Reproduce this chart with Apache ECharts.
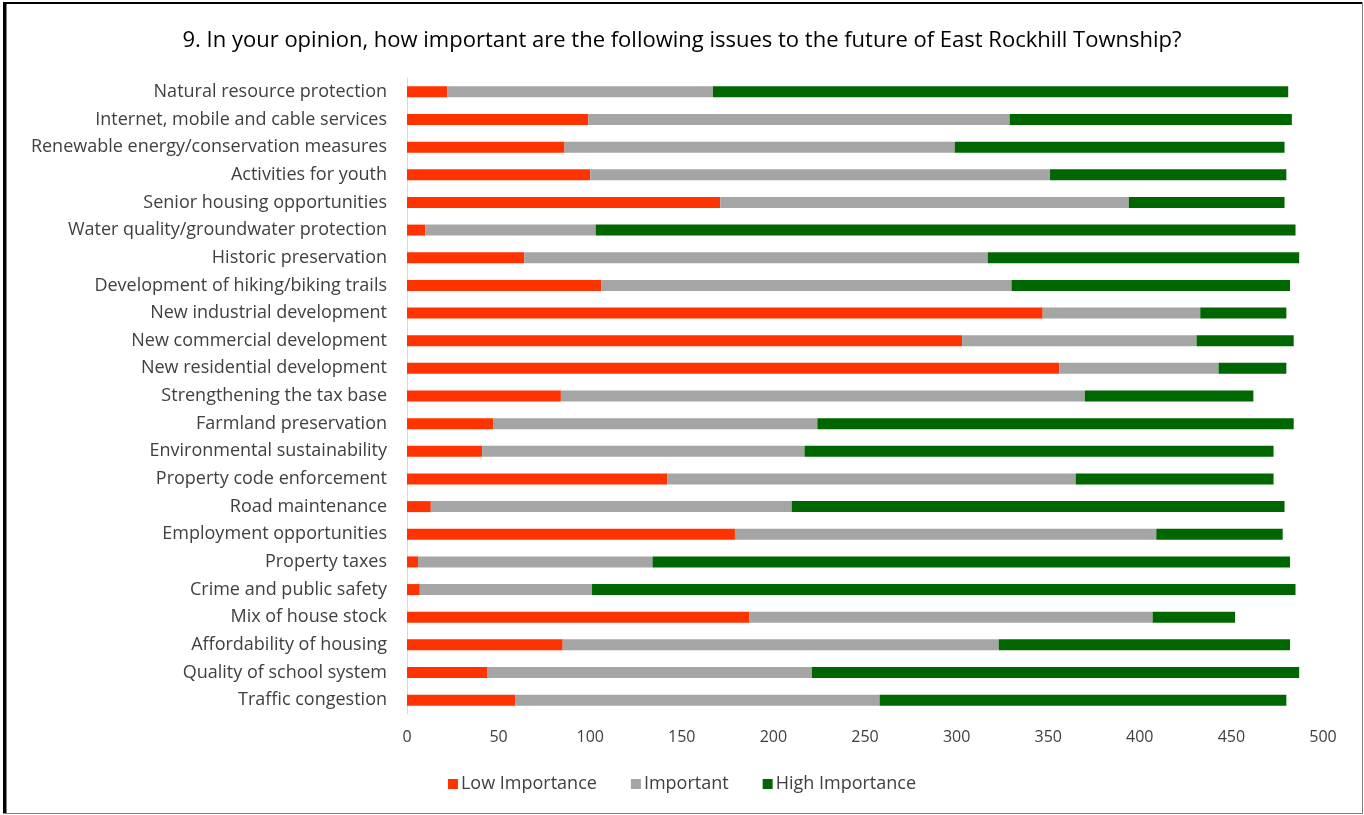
<!DOCTYPE html>
<html>
<head>
<meta charset="utf-8">
<script src="https://cdn.jsdelivr.net/npm/echarts@6/dist/echarts.min.js"></script>
<style>
html,body{margin:0;padding:0;background:#fff;}
#chart{width:1364px;height:815px;}
</style>
</head>
<body>
<div id="chart"></div>
<script>
const categories = [
  "Natural resource protection",
  "Internet, mobile and cable services",
  "Renewable energy/conservation measures",
  "Activities for youth",
  "Senior housing opportunities",
  "Water quality/groundwater protection",
  "Historic preservation",
  "Development of hiking/biking trails",
  "New industrial development",
  "New commercial development",
  "New residential development",
  "Strengthening the tax base",
  "Farmland preservation",
  "Environmental sustainability",
  "Property code enforcement",
  "Road maintenance",
  "Employment opportunities",
  "Property taxes",
  "Crime and public safety",
  "Mix of house stock",
  "Affordability of housing",
  "Quality of school system",
  "Traffic congestion"
];
const lowImportance  = [22, 99, 86, 100, 171, 10, 64, 106, 347, 303, 356, 84, 47, 41, 142, 13, 179, 6, 7, 187, 85, 44, 59];
const important      = [145, 230, 213, 251, 223, 93, 253, 224, 86, 128, 87, 286, 177, 176, 223, 197, 230, 128, 94, 220, 238, 177, 199];
const highImportance = [314, 154, 180, 129, 85, 382, 170, 152, 47, 53, 37, 92, 260, 256, 108, 269, 69, 348, 384, 45, 159, 266, 222];
const seriesNames = ["Low Importance", "Important", "High Importance"];
const xTicks = { min: 0, max: 500, interval: 50 };
const title = "9. In your opinion, how important are the following issues to the future of East Rockhill Township?";

const FONT = "Open Sans";
const chart = echarts.init(document.getElementById('chart'), null, {renderer: 'canvas'});
const colors = ["#FF3300", "#A5A5A5", "#006600"];
const dataSets = [lowImportance, important, highImportance];

chart.setOption({
  animation: false,
  backgroundColor: "#ffffff",
  title: {
    text: title,
    left: "center",
    top: 25,
    textStyle: { fontFamily: FONT, fontSize: 22, fontWeight: "normal", color: "#000" }
  },
  legend: {
    data: seriesNames,
    bottom: 17,
    left: "center",
    itemWidth: 10,
    itemHeight: 10,
    itemGap: 34,
    icon: "rect",
    textStyle: { fontFamily: FONT, fontSize: 18, color: "#404040", padding: [0,0,0,-2] }
  },
  grid: { left: 407, right: 41, top: 78, bottom: 101, containLabel: false },
  xAxis: {
    type: "value",
    min: xTicks.min, max: xTicks.max, interval: xTicks.interval,
    axisLine: { show: false },
    axisTick: { show: false },
    splitLine: { show: false },
    axisLabel: { fontFamily: FONT, fontSize: 16, color: "#404040", margin: 15 }
  },
  yAxis: {
    type: "category",
    data: categories,
    inverse: true,
    axisLine: { show: true, lineStyle: { color: "#D9D9D9", width: 1 } },
    axisTick: { show: false },
    axisLabel: { fontFamily: FONT, fontSize: 18, color: "#404040", margin: 20 }
  },
  series: seriesNames.map((n, i) => ({
    name: n,
    type: "bar",
    stack: "total",
    barWidth: 11,
    data: dataSets[i],
    itemStyle: { color: colors[i] }
  })),
  graphic: [
    { type: "rect", shape: { x: 3, y: 2, width: 3, height: 811 }, style: { fill: "#000" }, silent: true },
    { type: "rect", shape: { x: 3, y: 2, width: 1359, height: 2 }, style: { fill: "#000" }, silent: true },
    { type: "rect", shape: { x: 6, y: 4, width: 1, height: 809 }, style: { fill: "#808080" }, silent: true },
    { type: "rect", shape: { x: 1362, y: 2, width: 1, height: 812 }, style: { fill: "#808080" }, silent: true },
    { type: "rect", shape: { x: 3, y: 813, width: 1360, height: 1 }, style: { fill: "#808080" }, silent: true }
  ]
});
</script>
</body>
</html>
